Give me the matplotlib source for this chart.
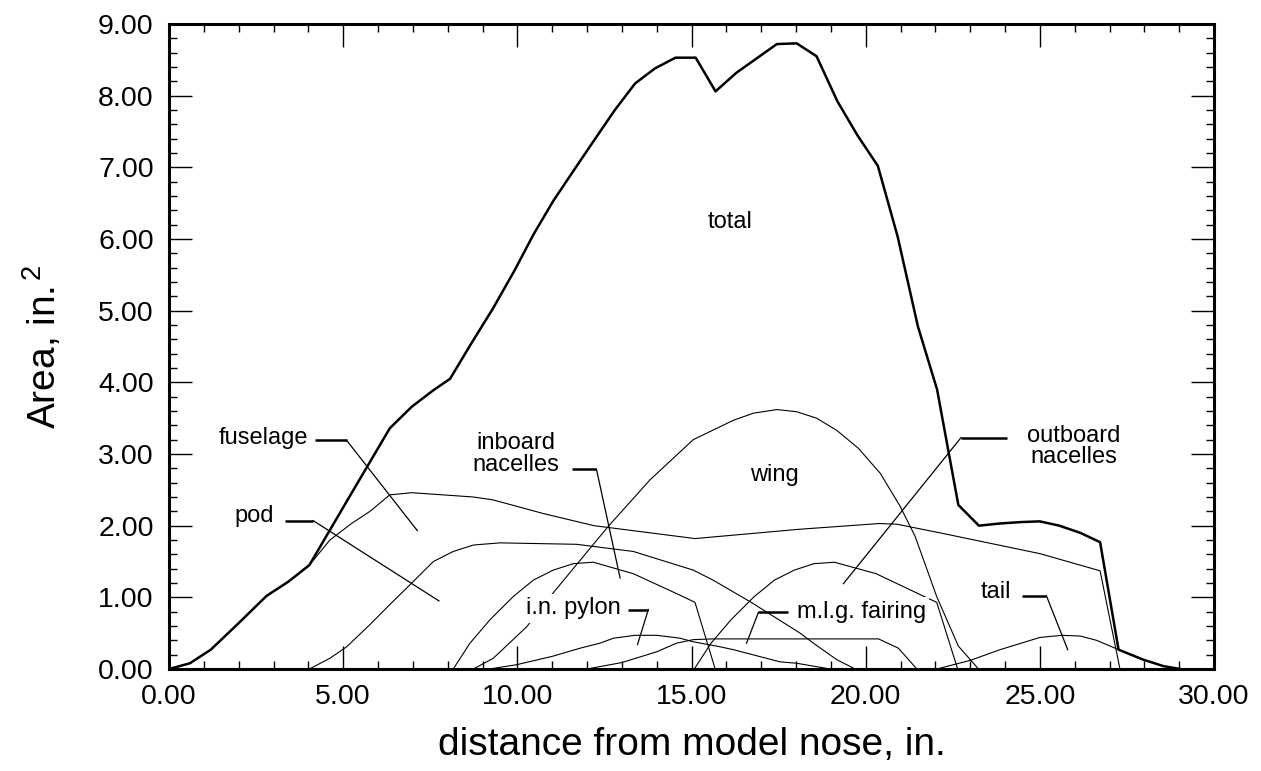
import matplotlib
matplotlib.use("Agg")
import matplotlib.pyplot as plt
from matplotlib.ticker import MultipleLocator, FormatStrFormatter

plt.rcParams['font.family'] = ['Liberation Sans', 'DejaVu Sans']
plt.rcParams['mathtext.fontset'] = 'custom'
plt.rcParams['mathtext.rm'] = 'Liberation Sans'
plt.rcParams['mathtext.it'] = 'Liberation Sans'

# ---- data ----
total_x = [0, 0.6, 1.2, 2.0, 2.8, 3.43, 4.03, 5.2, 6.34, 6.97, 7.59, 8.07, 8.65, 9.3,
           9.93, 10.46, 11.03, 11.61, 12.18, 12.8, 13.38, 13.95, 14.54, 15.12, 15.69,
           16.29, 16.87, 17.45, 18.02, 18.59, 19.19, 19.76, 20.35, 20.92, 21.5, 22.05,
           22.66, 23.25, 23.85, 24.45, 25.0, 25.56, 26.16, 26.73, 27.26, 27.97, 28.55, 29.03]
total_y = [0, 0.08, 0.27, 0.64, 1.02, 1.22, 1.45, 2.42, 3.36, 3.66, 3.89, 4.05, 4.52, 5.03,
           5.57, 6.06, 6.53, 6.95, 7.36, 7.80, 8.17, 8.38, 8.53, 8.53, 8.06,
           8.32, 8.52, 8.72, 8.73, 8.55, 7.92, 7.45, 7.02, 6.03, 4.78, 3.90,
           2.29, 2.00, 2.03, 2.05, 2.06, 2.00, 1.90, 1.77, 0.27, 0.13, 0.04, 0]

fus_x = [0, 0.6, 1.2, 2.0, 2.8, 3.43, 4.03, 4.62, 5.24, 5.77, 6.34, 6.97, 8.74, 9.3,
         10.74, 12.2, 15.1, 18.1, 20.4, 20.9, 22.23, 25.0, 26.73, 27.3]
fus_y = [0, 0.08, 0.27, 0.64, 1.02, 1.22, 1.45, 1.80, 2.03, 2.20, 2.43, 2.46, 2.40, 2.36,
         2.17, 2.00, 1.82, 1.95, 2.03, 2.02, 1.89, 1.61, 1.37, 0]

pod_x = [4.03, 4.62, 5.1, 5.77, 6.34, 6.97, 7.59, 8.16, 8.74, 9.5, 11.7, 13.33, 15.05,
         15.62, 16.68, 18.12, 18.5, 19.17, 19.7]
pod_y = [0, 0.15, 0.31, 0.62, 0.90, 1.20, 1.50, 1.64, 1.73, 1.76, 1.74, 1.64, 1.38,
         1.24, 0.94, 0.50, 0.36, 0.13, 0]

inb_x = [8.16, 8.64, 9.22, 9.88, 10.46, 11.03, 11.61, 12.18, 13.33, 14.67, 15.1, 15.68]
inb_y = [0, 0.36, 0.69, 1.01, 1.24, 1.38, 1.47, 1.49, 1.33, 1.03, 0.93, 0]

out_x = [15.08, 15.56, 16.14, 16.8, 17.38, 17.95, 18.52, 19.1, 20.3, 21.6, 22.04, 22.64]
out_y = [0, 0.36, 0.69, 1.01, 1.24, 1.38, 1.47, 1.49, 1.33, 1.03, 0.93, 0]

wing_x = [8.74, 9.31, 10.27, 10.94, 12.61, 13.81, 15.05, 16.2, 16.78, 17.45, 18.02, 18.59,
          19.17, 19.79, 20.42, 20.99, 21.42, 22.04, 22.66, 23.24]
wing_y = [0, 0.15, 0.59, 1.01, 1.99, 2.64, 3.20, 3.47, 3.57, 3.62, 3.59, 3.50,
          3.33, 3.08, 2.73, 2.27, 1.85, 1.01, 0.32, 0]

pyl_x = [9.2, 9.98, 11.03, 11.8, 12.37, 12.76, 13.38, 14.0, 14.67, 15.05, 15.82, 16.2,
         17.54, 18.02, 18.98]
pyl_y = [0, 0.06, 0.18, 0.29, 0.36, 0.43, 0.47, 0.47, 0.43, 0.38, 0.31, 0.27,
         0.10, 0.08, 0]

mlg_x = [12.0, 13.0, 14.0, 14.57, 15.05, 15.62, 20.37, 20.94, 21.47]
mlg_y = [0, 0.09, 0.24, 0.36, 0.41, 0.42, 0.42, 0.29, 0]

tail_x = [22.04, 23.0, 23.86, 25.0, 25.63, 26.16, 26.63, 27.26, 27.97, 28.55, 29.03]
tail_y = [0, 0.12, 0.27, 0.44, 0.47, 0.46, 0.40, 0.27, 0.13, 0.04, 0]

# labels: text, text position, leader (horizontal start, horizontal end, tip)
labels = [
    ("total", (16.1, 6.24), None),
    ("fuselage", (2.71, 3.22), [(4.19, 3.19), (5.10, 3.19), (7.13, 1.93)]),
    ("pod", (2.44, 2.13), [(3.33, 2.07), (4.14, 2.07), (7.75, 0.95)]),
    ("inboard\nnacelles", (9.96, 3.0), [(11.56, 2.79), (12.27, 2.79), (12.95, 1.27)]),
    ("wing", (17.37, 2.71), None),
    ("i.n. pylon", (11.6, 0.85), [(13.19, 0.83), (13.76, 0.83), (13.45, 0.34)]),
    ("m.l.g. fairing", (19.87, 0.8), [(17.78, 0.79), (16.92, 0.79), (16.58, 0.36)]),
    ("outboard\nnacelles", (25.97, 3.11), [(24.05, 3.23), (22.74, 3.23), (19.36, 1.19)]),
    ("tail", (23.74, 1.08), [(24.48, 1.02), (25.19, 1.02), (25.8, 0.27)]),
]

fig = plt.figure(figsize=(12.61, 7.71), dpi=100)
ax = fig.add_axes([169 / 1261, 1 - 669 / 771, (1214 - 169) / 1261, (669 - 24) / 771])

thin = 0.8
for xs, ys in [(fus_x, fus_y), (pod_x, pod_y), (inb_x, inb_y), (out_x, out_y),
               (wing_x, wing_y), (pyl_x, pyl_y), (mlg_x, mlg_y), (tail_x, tail_y)]:
    ax.plot(xs, ys, color='black', lw=thin, zorder=2)
ax.plot(total_x, total_y, color='black', lw=1.8, zorder=3)

for text, (tx, ty), leader in labels:
    ax.text(tx, ty, text, ha='center', va='center', fontsize=17, linespacing=0.95,
            zorder=5, bbox=dict(boxstyle='square,pad=0.15', fc='white', ec='none'))
    if leader:
        (x0, y0), (x1, y1), (x2, y2) = leader
        ax.plot([x0, x1], [y0, y1], color='black', lw=1.8, zorder=6, solid_capstyle='butt')
        ax.plot([x1, x2], [y1, y2], color='black', lw=0.9, zorder=6)

ax.set_xlim(0, 30)
ax.set_ylim(0, 9)
ax.xaxis.set_major_locator(MultipleLocator(5))
ax.xaxis.set_minor_locator(MultipleLocator(1))
ax.yaxis.set_major_locator(MultipleLocator(1))
ax.yaxis.set_minor_locator(MultipleLocator(0.2))
ax.xaxis.set_major_formatter(FormatStrFormatter('%.2f'))
ax.yaxis.set_major_formatter(FormatStrFormatter('%.2f'))
ax.tick_params(which='both', direction='in', top=True, right=True, labelsize=20.5)
ax.tick_params(which='major', length=16.5, width=1.0, pad=11)
ax.tick_params(which='minor', length=5.5, width=1.0)
for s in ax.spines.values():
    s.set_linewidth(2.2)

fig.text(692 / 1261, 1 - 745 / 771, "distance from model nose, in.", ha='center', va='center',
         fontsize=28)
fig.text(42 / 1261, 1 - 347 / 771, r"Area, in.$^{\,2}$", ha='center', va='center',
         rotation=90, fontsize=28)

fig.savefig("out.png", dpi=100)
